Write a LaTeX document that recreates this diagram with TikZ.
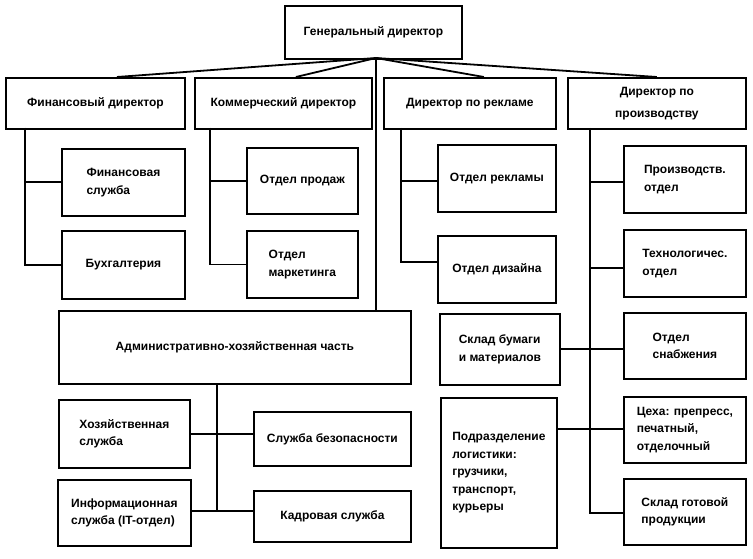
\documentclass[tikz,border=0pt]{standalone}
\usepackage{fontspec}
\setmainfont{Liberation Sans}
\begin{document}
\begin{tikzpicture}[x=1pt,y=-1pt,
  box/.style={draw,line width=1.8pt,anchor=north west,inner sep=1pt,
    font=\bfseries\fontsize{12}{17.5}\selectfont},
  conn/.style={line width=1.8pt}]
\useasboundingbox (0,0) rectangle (753,559);
% top
\node[box,minimum width=177,minimum height=53] (gd) at (284,5) {Генеральный директор};
\node[box,minimum width=179,minimum height=51] (fd) at (5,77) {Финансовый директор};
\node[box,minimum width=177,minimum height=51] (kd) at (194,77) {Коммерческий директор};
\node[box,minimum width=172,minimum height=51] (rd) at (383,77) {Директор по рекламе};
\node[box,minimum width=178,minimum height=51,align=center] (pd) at (567,77) {Директор по\\[4pt]производству};
% finance
\node[box,minimum width=123,minimum height=67,align=left] (fs) at (61,148) {Финансовая\\служба};
\node[box,minimum width=123,minimum height=68] (bu) at (61,230) {Бухгалтерия};
% commercial
\node[box,minimum width=111,minimum height=66] (op) at (246,147) {Отдел продаж};
\node[box,minimum width=111,minimum height=67,align=left] (om) at (246,230) {Отдел\\маркетинга};
% advertising
\node[box,minimum width=118,minimum height=67] (orr) at (437,144) {Отдел рекламы};
\node[box,minimum width=118,minimum height=67] (dz) at (437,235) {Отдел дизайна};
% production
\node[box,minimum width=122,minimum height=67,align=left] (po) at (623,145) {Производств.\\отдел};
\node[box,minimum width=122,minimum height=67,align=left] (to) at (623,229) {Технологичес.\\отдел};
\node[box,minimum width=122,minimum height=66,align=left] (sn) at (623,312) {Отдел\\снабжения};
\node[box,minimum width=122,minimum height=66,align=left] (ce) at (623,396) {Цеха: препресс,\\печатный,\\отделочный};
\node[box,minimum width=122,minimum height=66,align=left] (sg) at (623,478) {Склад готовой\\продукции};
\node[box,minimum width=120,minimum height=71,align=left] (sb) at (439,313) {Склад бумаги\\и материалов};
\node[box,minimum width=116,minimum height=150,align=left] (lg) at (440,397) {Подразделение\\логистики:\\грузчики,\\транспорт,\\курьеры};
% admin
\node[box,minimum width=352,minimum height=73] (ax) at (58,310) {Административно-хозяйственная часть};
\node[box,minimum width=131,minimum height=68,align=left] (hs) at (58,399) {Хозяйственная\\служба};
\node[box,minimum width=157,minimum height=54] (bz) at (253,411) {Служба безопасности};
\node[box,minimum width=133,minimum height=66,align=left] (is) at (57,479) {Информационная\\служба (IT-отдел)};
\node[box,minimum width=157,minimum height=51] (kk) at (253,490) {Кадровая служба};
% connectors from general director
\coordinate (apex) at (376,58);
\draw[conn] (apex) -- ([xshift=21.5]fd.north);
\draw[conn] (apex) -- ([xshift=12.5]kd.north);
\draw[conn] (apex) -- ([xshift=14]rd.north);
\draw[conn] (apex) -- (pd.north);
\draw[conn] (apex) -- (apex |- ax.north);
% finance
\coordinate (fv) at (25,128);
\draw[conn] (fv) |- (fs.west);
\draw[conn] (fv) |- (bu.west);
% commercial
\coordinate (kv) at (210,128);
\draw[conn] (kv) |- (op.west);
\draw[conn] (kv) |- (om.west);
% advertising
\coordinate (rv) at (401,128);
\coordinate (rh1) at (401,181);
\coordinate (rh2) at (401,262);
\draw[conn] (rv) -- (rh2) -- (dz.west |- rh2);
\draw[conn] (rh1) -- (orr.west |- rh1);
% production
\coordinate (pv) at (590,128);
\coordinate (ph1) at (590,182);
\coordinate (ph2) at (590,268);
\coordinate (ph3) at (590,349);
\coordinate (ph4) at (590,429);
\coordinate (ph5) at (590,513);
\draw[conn] (pv) -- (ph5) -- (sg.west |- ph5);
\draw[conn] (ph1) -- (po.west |- ph1);
\draw[conn] (ph2) -- (to.west |- ph2);
\draw[conn] (sb.east |- ph3) -- (sn.west |- ph3);
\draw[conn] (lg.east |- ph4) -- (ce.west |- ph4);
% admin
\coordinate (av) at (217,383);
\coordinate (ah1) at (217,434);
\coordinate (ah2) at (217,511);
\draw[conn] (ax.south -| av) -- (ah2);
\draw[conn] (hs.east |- ah1) -- (bz.west |- ah1);
\draw[conn] (is.east |- ah2) -- (kk.west |- ah2);
\end{tikzpicture}
\end{document}
